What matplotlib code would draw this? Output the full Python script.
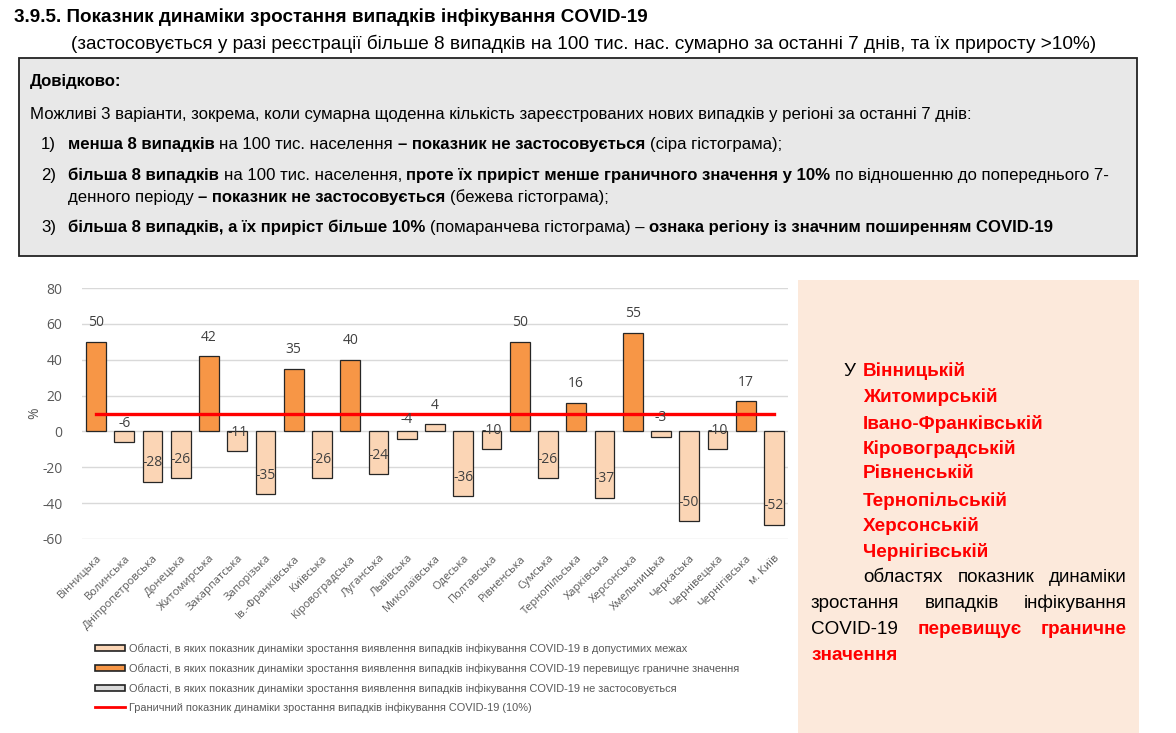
import matplotlib
matplotlib.use('Agg')
import matplotlib.pyplot as plt
from matplotlib.patches import Rectangle
import numpy as np

plt.rcParams['axes.unicode_minus'] = False

# data
regions = ['Вінницька', 'Волинська', 'Дніпропетровська', 'Донецька', 'Житомирська',
           'Закарпатська', 'Запорізька', 'Ів.-Франківська', 'Київська', 'Кіровоградська',
           'Луганська', 'Львівська', 'Миколаївська', 'Одеська', 'Полтавська', 'Рівненська',
           'Сумська', 'Тернопільська', 'Харківська', 'Херсонська', 'Хмельницька',
           'Черкаська', 'Чернівецька', 'Чернігівська', 'м. Київ']
growth = [50, -6, -28, -26, 42, -11, -35, 35, -26, 40, -24, -4, 4, -36, -10, 50,
          -26, 16, -37, 55, -3, -50, -10, 17, -52]
threshold = 10
y_ticks = [-60, -40, -20, 0, 20, 40, 60, 80]

legend_labels = [
    'Області, в яких показник динаміки зростання виявлення випадків інфікування COVID-19 в допустимих межах',
    'Області, в яких показник динаміки зростання виявлення випадків інфікування COVID-19 перевищує граничне значення',
    'Області, в яких показник динаміки зростання виявлення випадків інфікування COVID-19 не застосовується',
    'Граничний показник динаміки зростання випадків інфікування COVID-19 (10%)',
]
panel_regions = ['Вінницькій', 'Житомирській', 'Івано-Франківській', 'Кіровоградській',
                 'Рівненській', 'Тернопільській', 'Херсонській', 'Чернігівській']

ORANGE = '#F79646'
PEACH = '#FBD5B5'
GREY = '#D9D9D9'
RED = '#FF0000'
TXT = '#595959'
BOX_FONT = ['Liberation Sans', 'DejaVu Sans']
CHART_FONT = ['Open Sans', 'DejaVu Sans']

W, H = 1176, 733
fig = plt.figure(figsize=(W / 100, H / 100), dpi=100)
bg = fig.add_axes([0, 0, 1, 1])
bg.set_xlim(0, W)
bg.set_ylim(H, 0)
bg.axis('off')
renderer = fig.canvas.get_renderer()


def text_width(s, size, bold, family):
    t = bg.text(0, 0, s, fontsize=size, fontweight='bold' if bold else 'normal', family=family)
    w = t.get_window_extent(renderer).width
    t.remove()
    return w


def space_width(size, family):
    return text_width('x x', size, False, family) - text_width('xx', size, False, family)


def fit_size(text, width, family, bold=False, guess=12):
    return guess * width / text_width(text, guess, bold, family)


def draw_line(x, y, runs, size, family, right=None):
    # runs: (text, bold, colour); each run is one text object
    if right is not None:
        runs = [(w, b, c) for s, b, c in runs for w in s.split()]
    widths = [text_width(s, size, b, family) for s, b, c in runs]
    sp = space_width(size, family)
    if right is not None and len(runs) > 1:
        sp = (right - x - sum(widths)) / (len(runs) - 1)
    cx = x
    for (s, b, c), w in zip(runs, widths):
        bg.text(cx, y, s, fontsize=size, fontweight='bold' if b else 'normal',
                color=c, family=family, ha='left', va='center_baseline')
        cx += w + sp


# title
title = '3.9.5. Показник динаміки зростання випадків інфікування COVID-19'
subtitle = ('(застосовується у разі реєстрації більше 8 випадків на 100 тис. нас. сумарно '
            'за останні 7 днів, та їх приросту >10%)')
draw_line(14, 15, [(title, True, 'black')], fit_size(title, 630, BOX_FONT, True), BOX_FONT)
draw_line(71, 42, [(subtitle, False, 'black')], fit_size(subtitle, 1028, BOX_FONT), BOX_FONT)

# reference box
bg.add_patch(Rectangle((19, 58), 1118, 198, facecolor='#E8E8E8', edgecolor='#222222', lw=1.3))
intro = ('Можливі 3 варіанти, зокрема, коли сумарна щоденна кількість зареєстрованих нових '
         'випадків у регіоні за останні 7 днів:')
bs = fit_size(intro, 938, BOX_FONT)
draw_line(30, 80, [('Довідково:', True, 'black')], bs, BOX_FONT)
draw_line(30, 113, [(intro, False, 'black')], bs, BOX_FONT)
for num, y in [('1)', 143), ('2)', 174), ('3)', 226)]:
    draw_line(41, y, [(num, False, 'black')], bs, BOX_FONT)
draw_line(68, 143, [('менша 8 випадків', True, 'black'), ('на 100 тис. населення', False, 'black'),
                    ('– показник не застосовується', True, 'black'),
                    ('(сіра гістограма);', False, 'black')], bs, BOX_FONT)
draw_line(68, 174, [('більша 8 випадків', True, 'black'), ('на 100 тис. населення,', False, 'black'),
                    ('проте їх приріст менше граничного значення у 10%', True, 'black'),
                    ('по відношенню до попереднього 7-', False, 'black')], bs, BOX_FONT)
draw_line(68, 196, [('денного періоду', False, 'black'),
                    ('– показник не застосовується', True, 'black'),
                    ('(бежева гістограма);', False, 'black')], bs, BOX_FONT)
draw_line(68, 226, [('більша 8 випадків, а їх приріст більше 10%', True, 'black'),
                    ('(помаранчева гістограма) –', False, 'black'),
                    ('ознака регіону із значним поширенням COVID-19', True, 'black')], bs, BOX_FONT)

# bar chart
ax = fig.add_axes([82 / W, 1 - 539 / H, (788 - 82) / W, (539 - 288) / H])
ax.patch.set_alpha(0)
x = np.arange(len(regions))
colors = [ORANGE if v > threshold else PEACH for v in growth]
ax.bar(x, growth, width=0.7, color=colors, edgecolor='#262626', linewidth=0.9, zorder=3)
ax.plot([x[0], x[-1]], [threshold, threshold], color=RED, lw=2.4, zorder=4)
for i, v in zip(x, growth):
    ax.text(i, v + 10.5, str(v), ha='center', va='center', fontsize=10,
            color='#404040', family=CHART_FONT, zorder=5)
ax.set_xlim(-0.5, len(regions) - 0.5)
ax.set_ylim(-60, 80)
ax.set_yticks(y_ticks)
ax.set_xticks(x)
ax.set_xticklabels(regions, rotation=45, ha='right', rotation_mode='anchor',
                   fontsize=8, color=TXT, family=CHART_FONT)
for lab in ax.get_yticklabels():
    lab.set_family(CHART_FONT)
ax.tick_params(axis='y', length=0, labelsize=10, labelcolor=TXT, pad=14)
ax.tick_params(axis='x', length=0, pad=10)
ax.grid(axis='y', color='#D9D9D9', lw=1, zorder=0)
ax.set_axisbelow(True)
for s in ax.spines.values():
    s.set_visible(False)
ax.set_ylabel('%', fontsize=10, color=TXT, family=CHART_FONT)
ax.yaxis.set_label_coords(-0.056, 0.5)

# legend
ls = fit_size(legend_labels[0], 557, BOX_FONT)
leg_y = [648, 668, 688, 707]
for lab, fc, y in zip(legend_labels[:3], [PEACH, ORANGE, GREY], leg_y):
    bg.add_patch(Rectangle((95, y - 3), 30, 6, facecolor=fc, edgecolor='#222222', lw=1.2))
    draw_line(129, y, [(lab, False, TXT)], ls, BOX_FONT)
bg.plot([95, 125], [leg_y[3], leg_y[3]], color=RED, lw=2)
draw_line(129, leg_y[3], [(legend_labels[3], False, TXT)], ls, BOX_FONT)

# right side note
bg.add_patch(Rectangle((798, 280), 341, 453, facecolor='#FCE9DB', edgecolor='none'))
ps = fit_size('Івано-Франківській', 179, BOX_FONT, True)
draw_line(843, 369, [('У', False, 'black')], ps, BOX_FONT)
for name, y in zip(panel_regions, [369, 395, 422, 447, 472, 499, 524, 550]):
    draw_line(863, y, [(name, True, RED)], ps, BOX_FONT)
draw_line(863, 576, [('областях показник динаміки', False, 'black')], ps, BOX_FONT, right=1127)
draw_line(811, 601, [('зростання випадків інфікування', False, 'black')], ps, BOX_FONT, right=1127)
draw_line(811, 627, [('COVID-19', False, 'black'), ('перевищує граничне', True, RED)],
          ps, BOX_FONT, right=1127)
draw_line(811, 653, [('значення', True, RED)], ps, BOX_FONT)

fig.savefig('out.png', dpi=100)
